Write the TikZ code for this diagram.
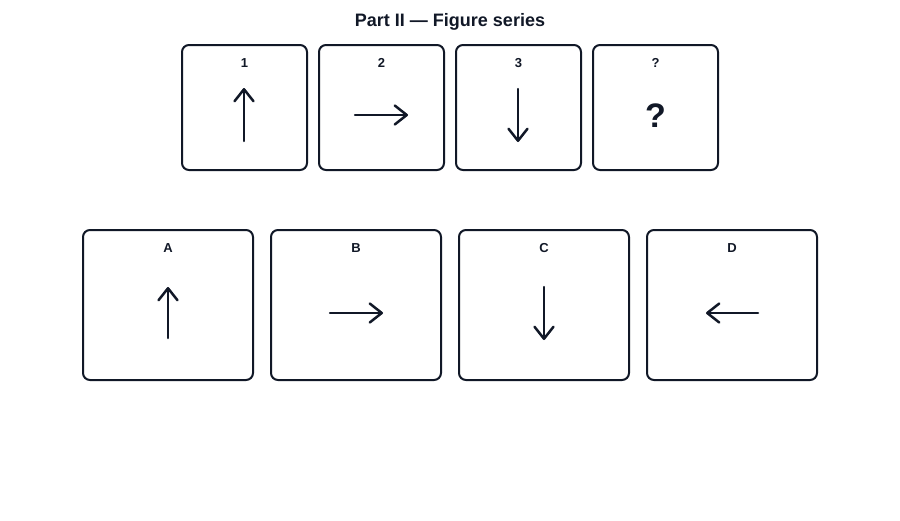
\documentclass[tikz,border=0pt]{standalone}
\usepackage{fontspec}
\setmainfont{Liberation Sans}
\usetikzlibrary{arrows.meta}
\definecolor{ink}{HTML}{111827}
\tikzset{
  box/.style={draw=ink, line width=2pt, rounded corners=7pt, fill=white, inner sep=0pt},
  lbl/.style={text=ink, font=\fontsize{13}{15}\selectfont\bfseries, anchor=center},
  arr/.style={draw=ink, line width=2.5pt, line cap=round, -{Straight Barb[length=12pt,width=19pt,line width=2.5pt, line cap=round, line join=round]}},
}
\begin{document}
\begin{tikzpicture}[x=1pt,y=-1pt]
\useasboundingbox (0,0) rectangle (900,520);
\fill[white] (0,0) rectangle (900,520);
\node[text=ink, font=\fontsize{18}{21}\selectfont\bfseries] (title) at (450,22) {Part II — Figure series};
% top row
\node[box, minimum width=125pt, minimum height=125pt] (t1) at (244.5,107.5) {};
\node[box, minimum width=125pt, minimum height=125pt] (t2) at (381.5,107.5) {};
\node[box, minimum width=125pt, minimum height=125pt] (t3) at (518.5,107.5) {};
\node[box, minimum width=125pt, minimum height=125pt] (t4) at (655.5,107.5) {};
\node[lbl] (l1) at (244.5,63) {1};
\node[lbl] (l2) at (381.5,63) {2};
\node[lbl] (l3) at (518.5,63) {3};
\node[lbl] (l4) at (655.5,63) {?};
\coordinate (a1s) at (244,141); \coordinate (a1e) at (244,88);
\coordinate (a2s) at (355,115); \coordinate (a2e) at (408,115);
\coordinate (a3s) at (518,89);  \coordinate (a3e) at (518,142);
\draw[arr] (a1s) -- (a1e);
\draw[arr] (a2s) -- (a2e);
\draw[arr] (a3s) -- (a3e);
\node[text=ink, font=\fontsize{34}{38}\selectfont\bfseries] (q) at (655.5,116) {?};
% bottom row
\node[box, minimum width=170pt, minimum height=150pt] (bA) at (168,305) {};
\node[box, minimum width=170pt, minimum height=150pt] (bB) at (356,305) {};
\node[box, minimum width=170pt, minimum height=150pt] (bC) at (544,305) {};
\node[box, minimum width=170pt, minimum height=150pt] (bD) at (732,305) {};
\node[lbl] (lA) at (168,248) {A};
\node[lbl] (lB) at (356,248) {B};
\node[lbl] (lC) at (544,248) {C};
\node[lbl] (lD) at (732,248) {D};
\coordinate (aAs) at (168,338); \coordinate (aAe) at (168,287);
\coordinate (aBs) at (330,313); \coordinate (aBe) at (383,313);
\coordinate (aCs) at (544,287); \coordinate (aCe) at (544,340);
\coordinate (aDs) at (758,313); \coordinate (aDe) at (706,313);
\draw[arr] (aAs) -- (aAe);
\draw[arr] (aBs) -- (aBe);
\draw[arr] (aCs) -- (aCe);
\draw[arr] (aDs) -- (aDe);
\end{tikzpicture}
\end{document}
